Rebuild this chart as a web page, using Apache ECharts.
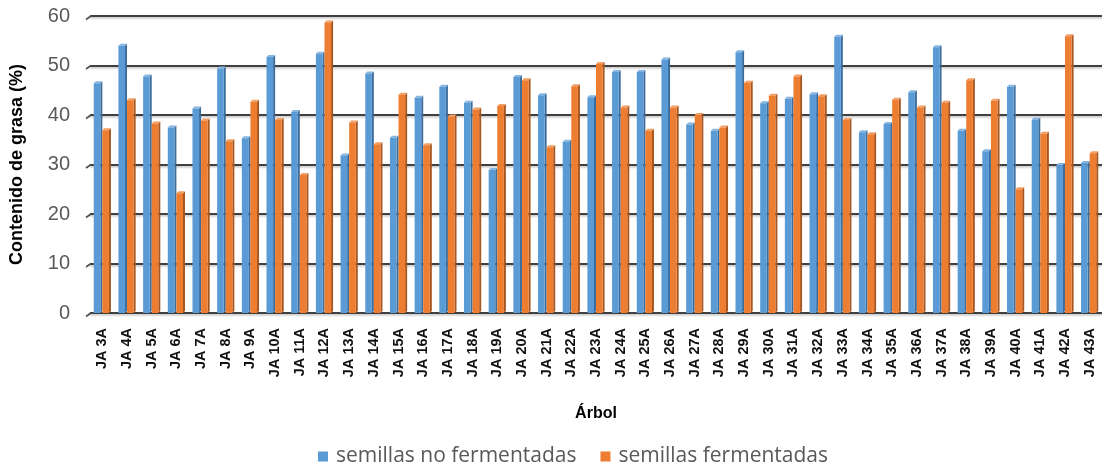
<!DOCTYPE html>
<html>
<head>
<meta charset="utf-8">
<script src="https://cdn.jsdelivr.net/npm/echarts@6/dist/echarts.min.js"></script>
<style>
  html, body { margin: 0; padding: 0; background: #ffffff; }
  #chart { width: 1102px; height: 463px; }
</style>
</head>
<body>
<div id="chart"></div>
<script>
// Tree codes along the horizontal axis
const categories = [
  'JA 3A', 'JA 4A', 'JA 5A', 'JA 6A', 'JA 7A', 'JA 8A', 'JA 9A', 'JA 10A', 'JA 11A', 'JA 12A',
  'JA 13A', 'JA 14A', 'JA 15A', 'JA 16A', 'JA 17A', 'JA 18A', 'JA 19A', 'JA 20A', 'JA 21A', 'JA 22A',
  'JA 23A', 'JA 24A', 'JA 25A', 'JA 26A', 'JA 27A', 'JA 28A', 'JA 29A', 'JA 30A', 'JA 31A', 'JA 32A',
  'JA 33A', 'JA 34A', 'JA 35A', 'JA 36A', 'JA 37A', 'JA 38A', 'JA 39A', 'JA 40A', 'JA 41A', 'JA 42A',
  'JA 43A'
];

// Fat content (%) of unfermented seeds
const noFermentadas = [
  46.8, 54.4, 48.2, 37.9, 41.7, 49.8, 35.7, 52.1, 41.0, 52.8,
  32.2, 48.8, 35.8, 43.9, 46.1, 42.9, 29.3, 48.1, 44.4, 35.0,
  44.0, 49.1, 49.1, 51.6, 38.5, 37.2, 53.1, 42.8, 43.7, 44.6,
  56.2, 36.9, 38.6, 45.0, 54.1, 37.2, 33.1, 46.1, 39.5, 30.3,
  30.7
];

// Fat content (%) of fermented seeds
const fermentadas = [
  37.3, 43.4, 38.7, 24.6, 39.3, 35.1, 43.1, 39.4, 28.3, 59.1,
  38.9, 34.5, 44.5, 34.3, 40.1, 41.5, 42.2, 47.4, 33.9, 46.2,
  50.7, 41.9, 37.2, 41.9, 40.4, 37.9, 46.9, 44.3, 48.2, 44.2,
  39.4, 36.5, 43.5, 41.9, 42.9, 47.4, 43.3, 25.4, 36.6, 56.3,
  32.7
];

// Value-axis ticks
const yTicks = [0, 10, 20, 30, 40, 50, 60];

const seriesNames = ['semillas no fermentadas', 'semillas fermentadas'];

// Face colours for the pseudo-3D columns: front, side, top
const palette = [
  { front: '#5B9BD5', side: '#3C6C9B', top: '#86B5E0' },
  { front: '#ED7D31', side: '#A9551E', top: '#F29D62' }
];

const FRONT_W = 6.6;  // front face width (px)
const DEPTH = 2.0;    // receding depth of the column (px)

function columnRenderer(seriesIdx) {
  const c = palette[seriesIdx];
  return function (params, api) {
    const idx = api.value(0);
    const val = api.value(1);
    const center = api.coord([idx, 0]);
    const topPt = api.coord([idx, val]);
    const x0 = seriesIdx === 0 ? center[0] - (FRONT_W + DEPTH) : center[0];
    const yb = center[1];
    const yt = topPt[1] + DEPTH;
    const x1 = x0 + FRONT_W;
    return {
      type: 'group',
      children: [
        {
          type: 'polygon',
          shape: { points: [[x1, yt], [x1 + DEPTH, yt - DEPTH], [x1 + DEPTH, yb - DEPTH], [x1, yb]] },
          style: { fill: c.side }
        },
        {
          type: 'polygon',
          shape: { points: [[x0, yt], [x1, yt], [x1 + DEPTH, yt - DEPTH], [x0 + DEPTH, yt - DEPTH]] },
          style: { fill: c.top }
        },
        {
          type: 'rect',
          shape: { x: x0, y: yt, width: FRONT_W, height: yb - yt },
          style: { fill: c.front }
        }
      ]
    };
  };
}

// Short slanted stubs where each gridline meets the floor edge on the left
function stubRenderer(params, api) {
  const v = api.value(1);
  const p = api.coord([0, v]);
  const band = api.size([1, 0])[0];
  const x = p[0] - band / 2 + 1;
  return {
    type: 'line',
    shape: { x1: x, y1: p[1], x2: x - 5, y2: p[1] + 3.5 },
    style: { stroke: '#4d4d4d', lineWidth: 1.6 }
  };
}

const chart = echarts.init(document.getElementById('chart'), null, { renderer: 'canvas' });

chart.setOption({
  animation: false,
  backgroundColor: '#ffffff',
  grid: { left: 84.5, top: 16, width: 1025, height: 297, containLabel: false },
  legend: {
    data: seriesNames,
    left: 313,
    top: 441,
    icon: 'rect',
    itemWidth: 10,
    itemHeight: 10,
    itemGap: 24,
    textStyle: { fontFamily: 'Open Sans', fontSize: 21, color: '#595959', padding: [0, 0, 0, 3] }
  },
  xAxis: {
    type: 'category',
    data: categories,
    boundaryGap: true,
    name: 'Árbol',
    nameLocation: 'middle',
    nameGap: 93,
    nameTextStyle: { fontFamily: 'Liberation Sans', fontWeight: 'bold', fontSize: 16, color: '#000000' },
    axisLine: { show: false },
    axisTick: { show: false },
    axisLabel: {
      interval: 0,
      rotate: 90,
      margin: 15,
      fontFamily: 'Liberation Sans',
      fontWeight: 'bold',
      fontSize: 14.5,
      color: '#111111'
    }
  },
  yAxis: {
    type: 'value',
    min: 0,
    max: 60,
    interval: 10,
    name: 'Contenido de grasa (%)',
    nameLocation: 'middle',
    nameGap: 64,
    nameRotate: 90,
    nameTextStyle: { fontFamily: 'Liberation Sans', fontWeight: 'bold', fontSize: 18, color: '#000000' },
    axisLine: { show: false },
    axisTick: { show: false },
    axisLabel: {
      margin: 20,
      fontFamily: 'Liberation Sans',
      fontSize: 20,
      color: '#595959',
      padding: [12, 0, 0, 0]
    },
    splitLine: {
      show: true,
      lineStyle: {
        color: '#404040',
        width: 1.8,
        shadowColor: 'rgba(0,0,0,0.25)',
        shadowBlur: 2,
        shadowOffsetY: 1.5
      }
    }
  },
  series: [
    {
      name: seriesNames[0],
      type: 'custom',
      renderItem: columnRenderer(0),
      itemStyle: { color: palette[0].front },
      encode: { x: 0, y: 1 },
      clip: false,
      z: 3,
      data: noFermentadas.map((v, i) => [i, v])
    },
    {
      name: seriesNames[1],
      type: 'custom',
      renderItem: columnRenderer(1),
      itemStyle: { color: palette[1].front },
      encode: { x: 0, y: 1 },
      clip: false,
      z: 3,
      data: fermentadas.map((v, i) => [i, v])
    },
    {
      name: 'gridStubs',
      type: 'custom',
      renderItem: stubRenderer,
      encode: { x: 0, y: 1 },
      clip: false,
      silent: true,
      z: 2,
      data: yTicks.map(v => [0, v])
    }
  ]
});
</script>
</body>
</html>
